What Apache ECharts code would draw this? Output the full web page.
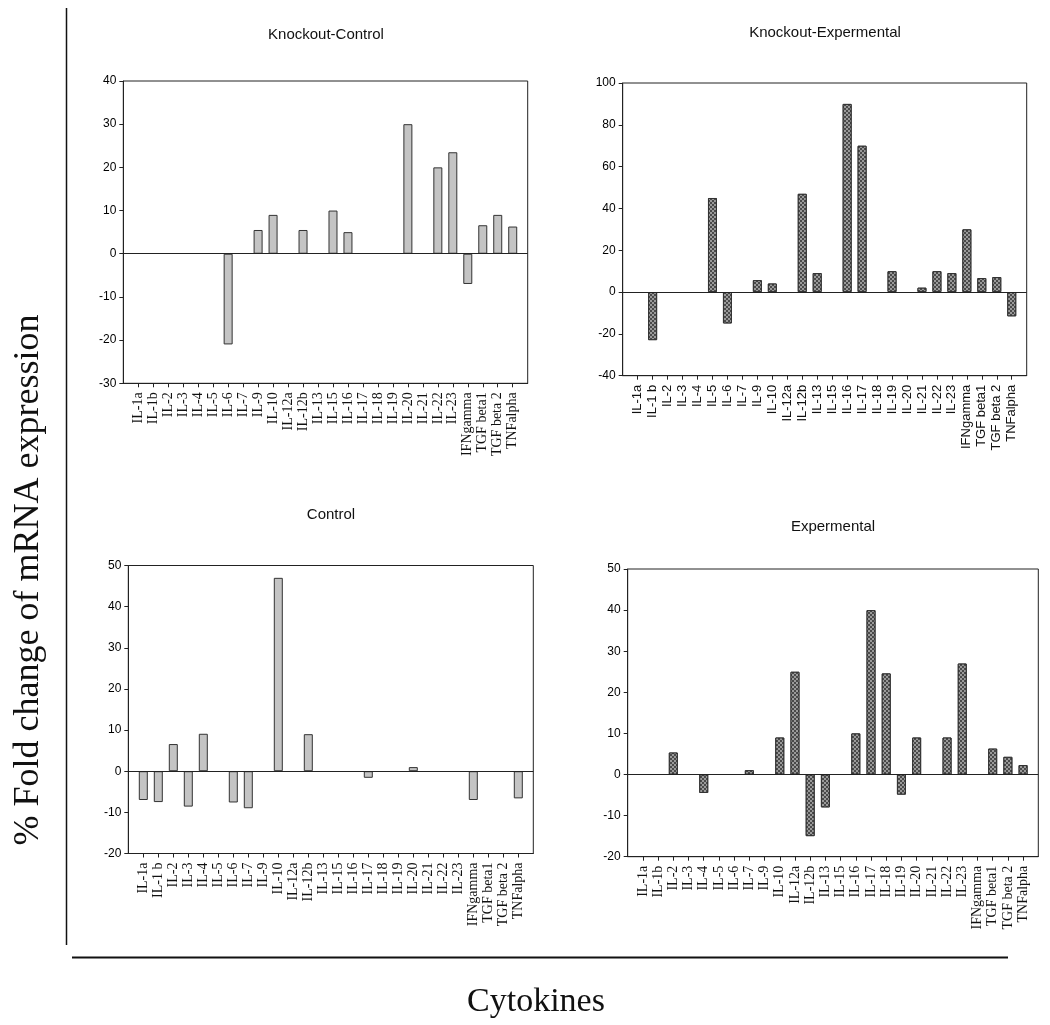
<!DOCTYPE html>
<html>
<head>
<meta charset="utf-8">
<script src="https://cdn.jsdelivr.net/npm/echarts@6/dist/echarts.min.js"></script>
<style>
html,body{margin:0;padding:0;background:#fff;}
#chart{width:1050px;height:1025px;}
</style>
</head>
<body>
<div id="chart"></div>
<script>
// ---- Data ----
const titles = ['Knockout-Control', 'Knockout-Expermental', 'Control', 'Expermental'];

const catsKC = ['IL-1a','IL-1b','IL-2','IL-3','IL-4','IL-5','IL-6','IL-7','IL-9','IL-10','IL-12a','IL-12b','IL-13','IL-15','IL-16','IL-17','IL-18','IL-19','IL-20','IL-21','IL-22','IL-23','IFNgamma','TGF beta1','TGF beta 2','TNFalpha'];
const catsKE = ['IL-1a','IL-1 b','IL-2','IL-3','IL-4','IL-5','IL-6','IL-7','IL-9','IL-10','IL-12a','IL-12b','IL-13','IL-15','IL-16','IL-17','IL-18','IL-19','IL-20','IL-21','IL-22','IL-23','IFNgamma','TGF beta1','TGF beta 2','TNFalpha'];
const catsC  = ['IL-1a','IL-1 b','IL-2','IL-3','IL-4','IL-5','IL-6','IL-7','IL-9','IL-10','IL-12a','IL-12b','IL-13','IL-15','IL-16','IL-17','IL-18','IL-19','IL-20','IL-21','IL-22','IL-23','IFNgamma','TGF beta1','TGF beta 2','TNFalpha'];
const catsE  = ['IL-1a','IL-1b','IL-2','IL-3','IL-4','IL-5','IL-6','IL-7','IL-9','IL-10','IL-12a','IL-12b','IL-13','IL-15','IL-16','IL-17','IL-18','IL-19','IL-20','IL-21','IL-22','IL-23','IFNgamma','TGF beta1','TGF beta 2','TNFalpha'];

const valuesKC = [0,0,0,0,0,0,-21,0,5.5,9,0,5.5,0,10,5,0,0,0,30,0,20,23.5,-7,6.6,9,6.3];
const valuesKE = [0,-23,0,0,0,45,-15,0,5.7,4.1,0,47,9.1,0,90,70,0,10,0,2.1,10,9.1,30,6.7,7.2,-11.6];
const valuesC  = [-7,-7.5,6.6,-8.6,9.1,0,-7.6,-9,0,47,0,9,0,0,0,-1.6,0,0,1,0,0,0,-7,0,0,-6.6];
const valuesE  = [0,0,5.35,0,-4.5,0,0,1.05,0,9,25,-15,-8,0,10,40,24.6,-4.9,9,0,9,27,0,6.3,4.3,2.3];

const yTicksKC = {min: -30, max: 40, interval: 10};
const yTicksKE = {min: -40, max: 100, interval: 20};
const yTicksC  = {min: -20, max: 50, interval: 10};
const yTicksE  = {min: -20, max: 50, interval: 10};

const yAxisTitle = '% Fold change of mRNA expression';
const xAxisTitle = 'Cytokines';

// ---- Layout / style ----
const panels = [
  {cats: catsKC, vals: valuesKC, y: yTicksKC, grid: {l:123.3, r:527.7, t:81, b:383.3}, labelFont: 'Liberation Serif', labelSize: 14, fill: 'light', title: titles[0], tx: 326, ty: 35},
  {cats: catsKE, vals: valuesKE, y: yTicksKE, grid: {l:622.7, r:1026.7, t:83, b:375.7}, labelFont: 'Liberation Sans', labelSize: 13, fill: 'dark', title: titles[1], tx: 825, ty: 33},
  {cats: catsC,  vals: valuesC,  y: yTicksC,  grid: {l:128.3, r:533.3, t:565.5, b:853.5}, labelFont: 'Liberation Serif', labelSize: 14, fill: 'light', title: titles[2], tx: 331, ty: 515},
  {cats: catsE,  vals: valuesE,  y: yTicksE,  grid: {l:627.7, r:1038.3, t:569, b:856.7}, labelFont: 'Liberation Serif', labelSize: 14, fill: 'dark', title: titles[3], tx: 833, ty: 527}
];

const W = 1050, H = 1025;
const grids = [], xAxes = [], yAxes = [], series = [], graphics = [];

panels.forEach((p, i) => {
  grids.push({
    left: p.grid.l, top: p.grid.t,
    width: p.grid.r - p.grid.l, height: p.grid.b - p.grid.t,
    show: true, borderColor: '#222', borderWidth: 1, backgroundColor: 'transparent'
  });
  const padded = [''].concat(p.cats).concat(['']);
  xAxes.push({
    type: 'category', gridIndex: i, data: padded, boundaryGap: false,
    position: 'bottom',
    axisLine: {show: true, onZero: false, lineStyle: {color: '#222', width: 1}},
    axisTick: {show: true, length: 4, lineStyle: {color: '#222'},
      interval: function (idx, val) { return val !== ''; }},
    axisLabel: {interval: 0, rotate: 90, margin: 9, color: '#111',
      fontFamily: p.labelFont, fontSize: p.labelSize},
    splitLine: {show: false}
  });
  yAxes.push({
    type: 'value', gridIndex: i, min: p.y.min, max: p.y.max, interval: p.y.interval,
    axisLine: {show: true, lineStyle: {color: '#222', width: 1}},
    axisTick: {show: true, length: 4, lineStyle: {color: '#222'}},
    axisLabel: {color: '#000', fontFamily: 'Liberation Sans', fontSize: 12, margin: 7},
    splitLine: {show: false}
  });
  const itemStyle = p.fill === 'light'
    ? {color: '#c4c4c4', borderColor: '#333', borderWidth: 1}
    : {color: '#4a4a4a', borderColor: '#333', borderWidth: 1,
       decal: {symbol: 'rect', symbolSize: 1, color: '#9a9a9a',
               dashArrayX: [[2, 2], [0, 2, 2, 0]], dashArrayY: [2, 0], rotation: 0}};
  series.push({
    type: 'bar', xAxisIndex: i, yAxisIndex: i,
    data: [null].concat(p.vals.map(v => v === 0 ? null : v)).concat([null]),
    barWidth: 9, itemStyle: itemStyle, silent: true, animation: false,
    markLine: {silent: true, symbol: 'none', label: {show: false},
      lineStyle: {color: '#222', width: 1, type: 'solid'},
      data: [{yAxis: 0}], animation: false}
  });
  graphics.push({
    type: 'text', x: p.tx, y: p.ty,
    style: {text: p.title, font: '15px "Liberation Sans", Arial, sans-serif', fill: '#111',
            textAlign: 'center', textVerticalAlign: 'middle'}
  });
});

// Outer axis lines and titles
graphics.push({type: 'line', shape: {x1: 66.5, y1: 8, x2: 66.5, y2: 945}, style: {stroke: '#111', lineWidth: 1.5}});
graphics.push({type: 'line', shape: {x1: 72, y1: 957.5, x2: 1008, y2: 957.5}, style: {stroke: '#111', lineWidth: 2}});
graphics.push({type: 'text', x: 29, y: 580, rotation: Math.PI / 2,
  style: {text: yAxisTitle, font: '36px "Liberation Serif", "Times New Roman", serif', fill: '#111',
          textAlign: 'center', textVerticalAlign: 'middle'}});
graphics.push({type: 'text', x: 536, y: 1002,
  style: {text: xAxisTitle, font: '34px "Liberation Serif", "Times New Roman", serif', fill: '#111',
          textAlign: 'center', textVerticalAlign: 'middle'}});

const chart = echarts.init(document.getElementById('chart'), null, {renderer: 'canvas', width: W, height: H});
chart.setOption({
  animation: false,
  backgroundColor: '#fff',
  grid: grids, xAxis: xAxes, yAxis: yAxes, series: series, graphic: graphics
});
</script>
</body>
</html>
